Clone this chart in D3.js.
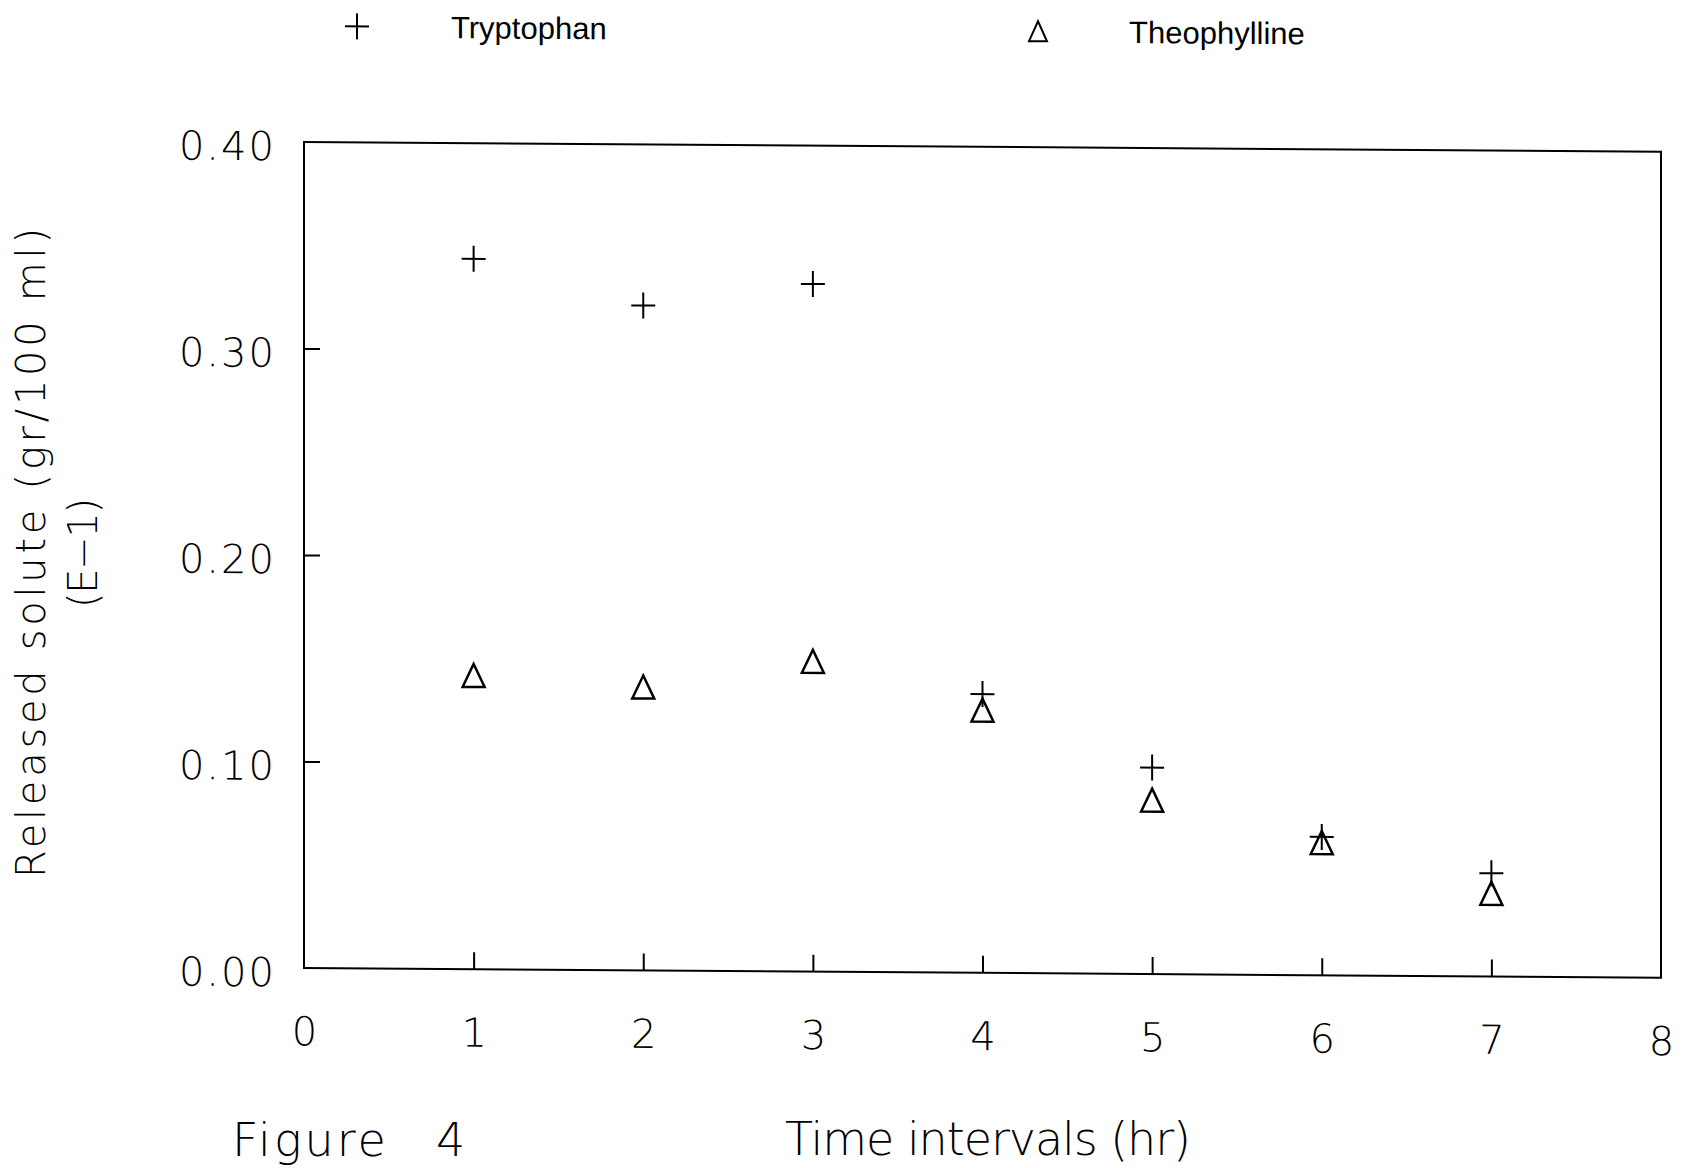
<!DOCTYPE html>
<html>
<head>
<meta charset="utf-8">
<script src="https://cdn.jsdelivr.net/npm/d3@7"></script>
<style>
  body { margin: 0; background: #fff; }
  svg { display: block; }
  .thin { font-family: "DejaVu Sans", "Lato", sans-serif; font-weight: 200; }
</style>
</head>
<body>
<svg id="chart" width="1683" height="1168"></svg>
<script>
// values (gr/100 ml, E-1)
const hours = [1, 2, 3, 4, 5, 6, 7];
const tryptophan = [0.344, 0.322, 0.333, 0.135, 0.100, 0.067, 0.050];
const theophylline = [0.142, 0.137, 0.150, 0.127, 0.084, 0.064, 0.040];
const xTicks = [0, 1, 2, 3, 4, 5, 6, 7, 8];
const yTicks = [0, 0.1, 0.2, 0.3, 0.4];
const seriesNames = ["Tryptophan", "Theophylline"];

const width = 1683, height = 1168;
const margins = { top: 142, right: 22, bottom: 200, left: 304 };
const plotW = width - margins.left - margins.right;
const plotH = height - margins.top - margins.bottom;
const skew = 0.41; // the scan is a little crooked

const translate = (x, y) => `translate(${x}, ${y})`;

const svg = d3.select("#chart");
svg.append("rect").attr("width", width).attr("height", height).attr("fill", "#fff");

const g = svg.append("g")
    .attr("transform", translate(margins.left, margins.top) + ` skewY(${skew})`);

const x = d3.scaleLinear().domain([0, 8]).range([0, plotW]);
const y = d3.scaleLinear().domain([0, 0.4]).range([plotH, 0]);

// frame
g.append("rect")
    .attr("x", 0).attr("y", 0)
    .attr("width", plotW).attr("height", plotH)
    .attr("fill", "none").attr("stroke", "#000").attr("stroke-width", 2);

// x axis - ticks point inward
const xAxis = d3.axisBottom(x)
    .tickValues(xTicks)
    .tickSizeInner(-17).tickSizeOuter(0).tickPadding(49)
    .tickFormat(d3.format("d"));
g.append("g")
    .attr("class", "axis x-axis thin")
    .attr("transform", translate(0, plotH))
    .call(xAxis);

// y axis
const yAxis = d3.axisLeft(y)
    .tickValues(yTicks)
    .tickSizeInner(-16).tickSizeOuter(0).tickPadding(28)
    .tickFormat(d3.format(".2f"));
g.append("g")
    .attr("class", "axis y-axis thin")
    .call(yAxis);

g.selectAll(".axis .domain").remove();
g.selectAll(".axis line").attr("stroke", "#000").attr("stroke-width", 2)
    .filter(d => d === 0 || d === 8 || d === 0.4).remove();
g.selectAll(".axis text")
    .attr("fill", "#000")
    .style("font-size", "40px");
g.selectAll(".y-axis text").attr("dy", "0.45em").style("letter-spacing", "2px");

// markers
const plusPath = "M-12,0H12M0,-13V13";
const triPath = "M0,-12L11,11L-11,11Z";

g.append("g").attr("id", "tryptophan")
    .selectAll("path")
    .data(hours.map((h, i) => ({ h, v: tryptophan[i] })))
    .enter()
    .append("path")
    .attr("d", plusPath)
    .attr("transform", d => translate(x(d.h), y(d.v)))
    .attr("fill", "none").attr("stroke", "#000").attr("stroke-width", 2);

g.append("g").attr("id", "theophylline")
    .selectAll("path")
    .data(hours.map((h, i) => ({ h, v: theophylline[i] })))
    .enter()
    .append("path")
    .attr("d", triPath)
    .attr("transform", d => translate(x(d.h), y(d.v)))
    .attr("fill", "none").attr("stroke", "#000").attr("stroke-width", 2.5);

// legend
const legend = g.append("g").attr("transform", translate(0, -116));
const legendItems = [
    { name: seriesNames[0], path: plusPath, sx: 53, tx: 147 },
    { name: seriesNames[1], path: "M0,-10L9,10L-9,10Z", sx: 734, tx: 825 },
];
legendItems.forEach(it => {
    legend.append("path")
        .attr("d", it.path)
        .attr("transform", translate(it.sx, 0))
        .attr("fill", "none").attr("stroke", "#000").attr("stroke-width", 2);
    legend.append("text")
        .attr("x", it.tx).attr("y", 0).attr("dy", "0.36em")
        .style("font-family", "'Liberation Sans', Arial, sans-serif")
        .style("font-size", "31px")
        .text(it.name);
});

// y title (two lines, rotated)
const yTitle = svg.append("g").attr("class", "thin").style("font-size", "40px");
yTitle.append("text")
    .attr("transform", translate(45, 553) + " rotate(-90)")
    .attr("text-anchor", "middle")
    .attr("textLength", 650).attr("lengthAdjust", "spacing")
    .text("Released solute (gr/100 ml)");
yTitle.append("text")
    .attr("transform", translate(97, 553) + " rotate(-90)")
    .attr("text-anchor", "middle")
    .attr("textLength", 110).attr("lengthAdjust", "spacing")
    .text("(E\u22121)");

// bottom captions
const fig = svg.append("text")
    .attr("class", "thin")
    .attr("x", 232).attr("y", 1156)
    .style("font-size", "46px").style("letter-spacing", "3px")
    .text("Figure");
fig.append("tspan").attr("x", 436).text("4");

svg.append("text")
    .attr("class", "thin")
    .attr("x", 785).attr("y", 1155)
    .attr("textLength", 406).attr("lengthAdjust", "spacing")
    .style("font-size", "46px")
    .text("Time intervals (hr)");
</script>
</body>
</html>
